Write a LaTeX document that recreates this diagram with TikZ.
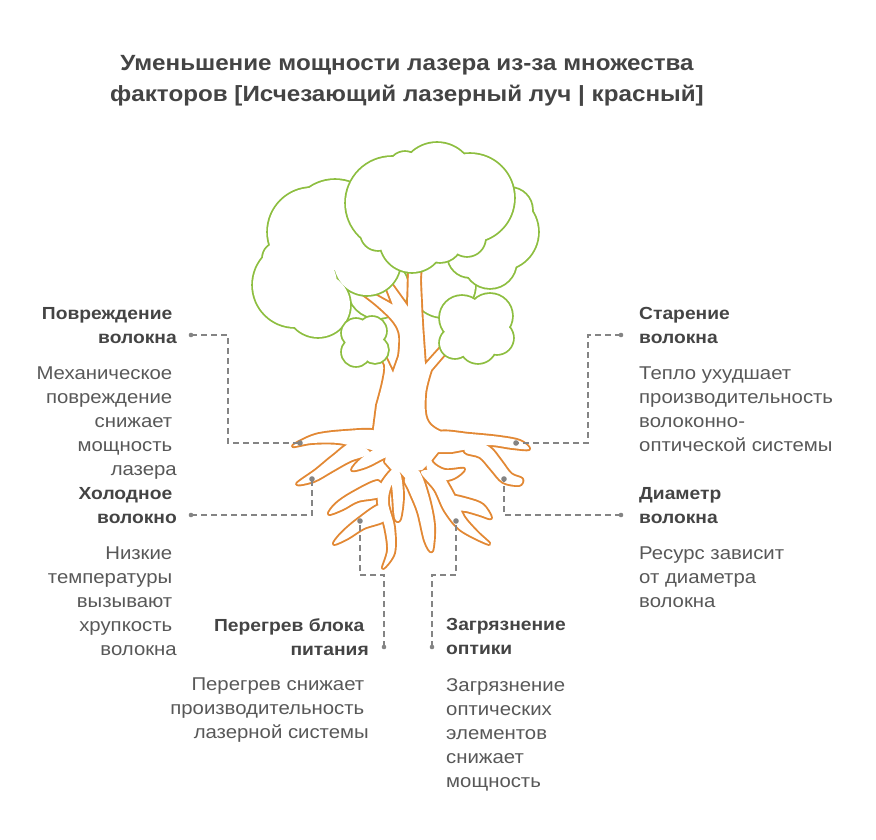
\documentclass[tikz,border=0pt]{standalone}
\usepackage{fontspec}
\setmainfont{Liberation Sans}[FakeStretch=1.1]
\usepackage{xcolor}
\usetikzlibrary{calc}

\definecolor{leafgreen}{RGB}{141,190,64}
\definecolor{barkorange}{RGB}{226,136,52}
\definecolor{inkdark}{RGB}{68,68,68}
\definecolor{inkbody}{RGB}{88,88,88}
\definecolor{linkgray}{RGB}{132,132,132}

\tikzset{
  leafedge/.style={draw=leafgreen, line width=3.6pt},
  barkedge/.style={draw=barkorange, line width=3.8pt, line join=round},
  rootline/.style={smooth cycle, tension=0.55},
  linkline/.style={draw=linkgray, line width=1.6pt, dash pattern=on 6pt off 4pt},
  enddot/.style={fill=linkgray},
  headtext/.style={font=\fontsize{17.5}{24}\selectfont\bfseries, text=inkdark, inner sep=0pt},
  bodytext/.style={font=\fontsize{18.5}{24}\selectfont, text=inkbody, inner sep=0pt},
}

% trailing space kept at the end of a wrapped line
\newcommand{\trail}{\kern4.5pt}

% a crown of leaves: outline of a union of circles
\newcommand{\leafcloud}[1]{%
  \foreach \px/\py/\pr in {#1} {\draw[leafedge] (\px,\py) circle[radius=\pr pt];}
  \foreach \px/\py/\pr in {#1} {\fill[white] (\px,\py) circle[radius=\pr pt];}
}

% trunk and roots, drawn twice (outline, then white inside)
\newcommand{\barkshapes}[1]{%
  \path[#1] (373,436)
    -- plot[smooth, tension=0.6] coordinates {(377,405) (383,382) (385,365) (378,357)}
    -- (384,354) -- (393,373)
    -- plot[smooth, tension=0.6] coordinates {(399,356) (400,336) (394,322) (378,306) (360,292)}
    -- (368,291) -- (393,305) -- (385,284) -- (390,282) -- (408,307)
    -- (409,268) -- (421,263)
    -- plot[smooth, tension=0.6] coordinates {(420,280) (422,322) (425,365)}
    -- (443,345) -- (449,349)
    -- plot[smooth, tension=0.6] coordinates {(431,370) (425,395) (428,422) (450,435) (480,438)}
    -- (468,449) -- (452,452) -- (438,452) -- (430,462) -- (422,470) -- (413,471)
    -- (407,480) -- (400,472) -- (392,470) -- (385,462) -- (386,455) -- (372,450)
    -- (360,447) -- cycle;
  % roots
  \path[#1] plot[rootline] coordinates {(376,431) (345,431) (315,435) (293,446) (312,443) (338,443) (362,448) (376,447)};
  \path[#1] plot[rootline] coordinates {(352,443) (333,456) (316,470) (297,484) (314,481) (332,471) (350,461) (370,453)};
  \path[#1] plot[rootline] coordinates {(380,447) (362,458) (352,470) (366,467) (382,459) (393,453)};
  \path[#1] plot[rootline] coordinates {(378,481) (352,493) (336,504) (329,514) (343,509) (358,501) (381,496)};
  \path[#1] plot[rootline] coordinates {(380,505) (357,520) (341,534) (334,544) (348,538) (364,528) (385,520)};
  \path[#1] plot[rootline] coordinates {(393,469) (380,486) (378,503) (385,527) (388,550) (383,568) (394,553) (394,527) (388,503) (391,486) (400,474)};
  \path[#1] plot[rootline] coordinates {(400,473) (403,496) (400,519) (395,518) (393,495) (392,476)};
  \path[#1] plot[rootline] coordinates {(418,470) (428,495) (434,525) (432,551) (425,541) (418,512) (409,490) (405,479)};
  \path[#1] plot[rootline] coordinates {(421,472) (435,490) (445,511) (461,530) (489,544) (477,532) (464,517) (456,499) (448,484) (439,471)};
  \path[#1] plot[rootline] coordinates {(450,496) (468,499) (483,505) (491,518) (480,515) (466,511) (451,509)};
  \path[#1] plot[rootline] coordinates {(429,448) (432,462) (445,470) (464,469) (454,478) (440,480) (427,469)};
  \path[#1] plot[rootline] coordinates {(468,439) (489,447) (501,461) (511,474) (522,479) (519,485) (503,482) (491,469) (480,457) (465,452)};
  \path[#1] plot[rootline] coordinates {(440,432) (470,434) (500,437) (520,441) (529,449) (512,448) (490,445) (465,447) (445,448)};
}

\begin{document}
\begin{tikzpicture}[x=1pt, y=-1pt]
  \useasboundingbox (0,0) rectangle (876,840);

  % title
  \node[headtext, font=\fontsize{22}{31}\selectfont\bfseries, align=center, anchor=north]
    (titleText) at (407,55) {Уменьшение мощности лазера из-за множества\\
    факторов [Исчезающий лазерный луч | красный]};

  % crowns behind the trunk
  \leafcloud{378/288/30, 443/285/32}
  \leafcloud{500/232/38, 510/210/22, 490/262/26, 470/255/22}

  % trunk and roots
  \barkshapes{barkedge}
  \barkshapes{fill=white}

  % crowns in front of the trunk
  \leafcloud{312/232/44, 295/285/42, 318/305/32, 278/258/15, 335/225/45, 367/262/33}
  \leafcloud{392/203/46, 405/168/16, 437/180/37, 470/198/44, 467/238/18, 440/240/22, 412/240/32, 378/233/17}
  \leafcloud{356/333/14, 372/331/14, 375/350/13, 356/352/14, 365/342/18}
  \leafcloud{462/318/22, 490/316/22, 497/338/16, 478/345/18, 455/343/15, 476/330/24}

  % ends of the connectors
  \coordinate (damageDot) at (191,335);
  \coordinate (damageKnee) at (228,443);
  \coordinate (damageRoot) at (300,443);
  \coordinate (coldDot) at (191,515);
  \coordinate (coldRoot) at (312,479);
  \coordinate (agingDot) at (621,335);
  \coordinate (agingKnee) at (588,443);
  \coordinate (agingRoot) at (516,443);
  \coordinate (diamDot) at (621,515);
  \coordinate (diamRoot) at (504,479);
  \coordinate (heatDot) at (384,647);
  \coordinate (heatKnee) at (384,575);
  \coordinate (heatRoot) at (360,521);
  \coordinate (dirtDot) at (432,647);
  \coordinate (dirtKnee) at (432,575);
  \coordinate (dirtRoot) at (456,521);

  \draw[linkline] (damageDot) -| (damageKnee) -- (damageRoot);
  \draw[linkline] (coldDot) -| (coldRoot);
  \draw[linkline] (agingDot) -| (agingKnee) -- (agingRoot);
  \draw[linkline] (diamDot) -| (diamRoot);
  \draw[linkline] (heatDot) -- (heatKnee) -| (heatRoot);
  \draw[linkline] (dirtDot) -- (dirtKnee) -| (dirtRoot);
  \foreach \d in {damageDot,coldDot,agingDot,diamDot,heatDot,dirtDot} {
    \fill[enddot] (\d) circle[radius=2.3pt];
  }
  \foreach \d in {damageRoot,coldRoot,agingRoot,diamRoot,heatRoot,dirtRoot} {
    \fill[enddot] (\d) circle[radius=2.8pt];
  }

  % left labels
  \node[headtext, align=right, anchor=north east] (damageHead) at (177,307)
    {Повреждение\trail\\волокна};
  \node[bodytext, align=right, anchor=north east] (damageBody) at (177,367)
    {Механическое\trail\\повреждение\trail\\снижает\trail\\мощность\trail\\лазера};
  \node[headtext, align=right, anchor=north east] (coldHead) at (177,487)
    {Холодное\trail\\волокно};
  \node[bodytext, align=right, anchor=north east] (coldBody) at (177,547)
    {Низкие\trail\\температуры\trail\\вызывают\trail\\хрупкость\trail\\волокна};

  % right labels
  \node[headtext, align=left, anchor=north west] (agingHead) at (639,307)
    {Старение\\волокна};
  \node[bodytext, align=left, anchor=north west] (agingBody) at (639,367)
    {Тепло ухудшает\\производительность\\волоконно-\\оптической системы};
  \node[headtext, align=left, anchor=north west] (diamHead) at (639,487)
    {Диаметр\\волокна};
  \node[bodytext, align=left, anchor=north west] (diamBody) at (639,547)
    {Ресурс зависит\\от диаметра\\волокна};

  % bottom labels
  \node[headtext, align=right, anchor=north east] (heatHead) at (369,618)
    {Перегрев блока\trail\\питания};
  \node[bodytext, align=right, anchor=north east] (heatBody) at (369,678)
    {Перегрев снижает\trail\\производительность\trail\\лазерной системы};
  \node[headtext, align=left, anchor=north west] (dirtHead) at (446,618)
    {Загрязнение\\оптики};
  \node[bodytext, align=left, anchor=north west] (dirtBody) at (446,678)
    {Загрязнение\\оптических\\элементов\\снижает\\мощность};
\end{tikzpicture}
\end{document}
